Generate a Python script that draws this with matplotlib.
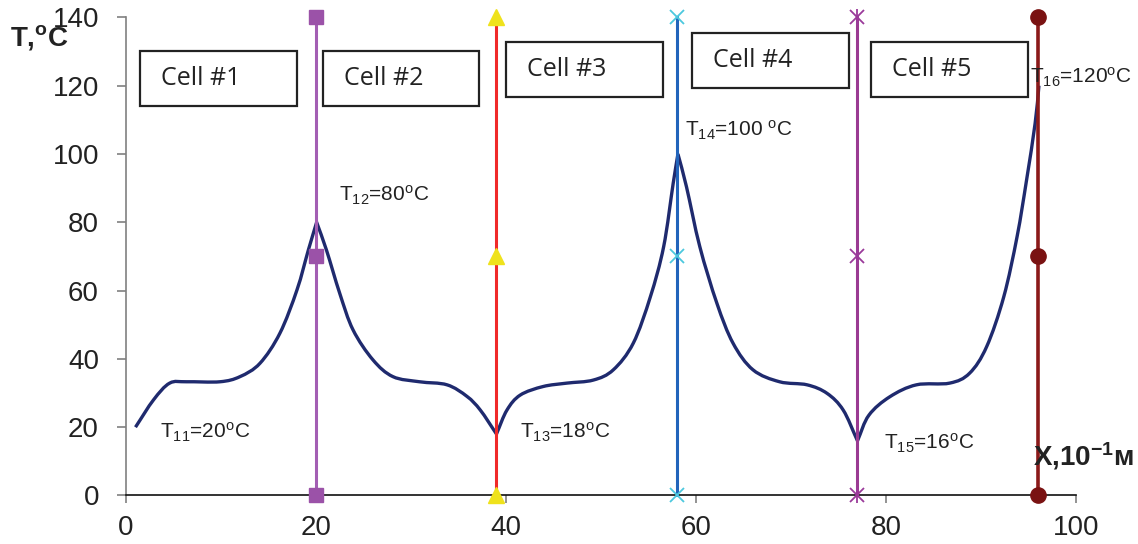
import matplotlib
matplotlib.use('Agg')
import matplotlib.pyplot as plt
import numpy as np
from matplotlib.patches import Rectangle, PathPatch
from matplotlib.path import Path

plt.rcParams['font.family'] = ['Liberation Sans', 'DejaVu Sans']
plt.rcParams['mathtext.default'] = 'regular'

# temperature profile
x_curve = [1, 2.9, 4.6, 6.4, 9.9, 12, 14.1, 16.2, 18, 19.2, 20.07,
           21.1, 22.5, 23.9, 26, 28.1, 30.9, 33.8, 35.9, 37.3, 39,
           40.1, 41.5, 43.9, 46.4, 49.2, 51.3, 53.4, 55.2, 56.6, 57.6, 58.1,
           59, 60.4, 62.2, 63.9, 66, 68.8, 71.7, 73.8, 75.5, 77,
           78.2, 80.4, 83.2, 86.7, 88.8, 90.6, 92.4, 93.8, 94.8, 95.7, 96.1]
t_curve = [20, 28, 32.9, 33.3, 33.3, 34.8, 38.7, 47.5, 60.2, 71.9, 80,
           71.9, 59.2, 48.5, 39.7, 34.8, 33.3, 32.4, 29, 25, 18,
           25, 29.4, 31.9, 32.9, 33.8, 36.8, 44.6, 58.2, 72.9, 91.4, 100,
           90.4, 72.9, 56.3, 44.6, 36.8, 33.3, 32.4, 29.9, 25, 16,
           23.5, 28.9, 32.4, 32.9, 35.8, 43.6, 58.2, 75.8, 92.4, 109, 120]

# cell boundaries and marker levels
x_bound = [20, 39, 58, 77, 96]
t_marks = [0, 70, 140]
line_colors = ['#a35eb3', '#f02a2a', '#2264bb', '#9a3a92', '#8b1a1a']

cell_names = ['Cell #1', 'Cell #2', 'Cell #3', 'Cell #4', 'Cell #5']
box_x0 = [1.5, 20.7, 40.0, 59.6, 78.4]
box_y0 = [114.1, 114.1, 116.7, 119.3, 116.7]

t_labels = [r'T$_{11}$=20$^{o}$C', r'T$_{12}$=80$^{o}$C', r'T$_{13}$=18$^{o}$C',
            r'T$_{14}$=100 $^{o}$C', r'T$_{15}$=16$^{o}$C', r'T$_{16}$=120$^{o}$C']
t_lab_x = [3.6, 22.4, 41.5, 58.8, 79.8, 95.2]
t_lab_y = [18.6, 88, 18.6, 107, 15.4, 122.3]


def smooth_path(xs, ys):
	# smoothed line like a spreadsheet, with sharp corners at the peaks and dips
	p = np.column_stack([xs, ys])
	cut = [0]
	for i in range(1, len(ys) - 1):
		if (ys[i] > ys[i-1] and ys[i] > ys[i+1]) or (ys[i] < ys[i-1] and ys[i] < ys[i+1]):
			cut.append(i)
	cut.append(len(ys) - 1)
	verts = [p[0]]
	codes = [Path.MOVETO]
	for a, b in zip(cut[:-1], cut[1:]):
		seg = p[a:b+1]
		m = np.zeros_like(seg)
		m[0] = seg[1] - seg[0]
		m[-1] = seg[-1] - seg[-2]
		m[1:-1] = (seg[2:] - seg[:-2]) / 2
		for k in range(len(seg) - 1):
			verts += [seg[k] + m[k] / 3, seg[k+1] - m[k+1] / 3, seg[k+1]]
			codes += [Path.CURVE4] * 3
	return Path(verts, codes)


fig = plt.figure(figsize=(11.38, 5.44), dpi=100)
ax = fig.add_axes([0.1107, 0.0892, 0.8348, 0.8788])

ax.add_patch(PathPatch(smooth_path(x_curve, t_curve), fill=False,
                       ec='#1f2a6e', lw=2.4, zorder=3))

# vertical boundary lines with their markers
ax.plot([x_bound[0]] * 3, t_marks, color=line_colors[0], lw=2.2, marker='s',
        ms=10, mfc='#9b52a8', mec='#9b52a8', clip_on=False, zorder=4)
ax.plot([x_bound[1]] * 3, t_marks, color=line_colors[1], lw=2.2, marker='^',
        ms=11, mfc='#efe21c', mec='#efe21c', clip_on=False, zorder=4)
ax.plot([x_bound[2]] * 3, t_marks, color=line_colors[2], lw=2.2, marker='x',
        ms=10, mec='#4cc8de', mew=1.3, clip_on=False, zorder=4)
ax.plot([x_bound[3]] * 3, t_marks, color=line_colors[3], lw=2.2, marker='x',
        ms=10, mec='#9a3a9a', mew=1.3, clip_on=False, zorder=4)
ax.plot([x_bound[3]] * 3, t_marks, ls='none', marker='|',
        ms=12, mec='#9a3a9a', mew=1.3, clip_on=False, zorder=4)
ax.plot([x_bound[4]] * 3, t_marks, color=line_colors[4], lw=2.6, marker='o',
        ms=11, mfc='#7a1212', mec='#7a1212', clip_on=False, zorder=4)

# cell boxes
for name, bx, by in zip(cell_names, box_x0, box_y0):
	ax.add_patch(Rectangle((bx, by), 16.5, 16.2, fill=False,
	                       ec='#222222', lw=1.6, zorder=2))
	ax.text(bx + 2.2, by + 8.1, name, fontsize=18, family='Open Sans',
	        color='#222222', va='center', ha='left', zorder=5)

for lab, lx, ly in zip(t_labels, t_lab_x, t_lab_y):
	ax.text(lx, ly, lab, fontsize=15, color='#222222', va='center', ha='left', zorder=5)

ax.set_xlim(0, 100)
ax.set_ylim(0, 140)
ax.set_xticks(range(0, 101, 20))
ax.set_yticks(range(0, 141, 20))

for s in ['top', 'right']:
	ax.spines[s].set_visible(False)
ax.spines['left'].set_color('#808080')
ax.spines['left'].set_linewidth(1.2)
ax.spines['bottom'].set_color('#111111')
ax.spines['bottom'].set_linewidth(1.2)
ax.tick_params(axis='y', length=6.5, width=1.2, color='#808080', pad=13,
               labelsize=20, labelcolor='#222222')
ax.tick_params(axis='x', length=6, width=1.2, color='#808080', pad=8,
               labelsize=20, labelcolor='#222222')

fig.text(10 / 1138, 1 - 37 / 544, r'T,$^{o}$C', fontsize=20, fontweight='bold',
         color='#222222', va='center', ha='left')
fig.text(1033 / 1138, 1 - 456 / 544, r'X,10$^{-1}$м', fontsize=20, fontweight='bold',
         color='#222222', va='center', ha='left')

fig.savefig('out.png', dpi=100)
